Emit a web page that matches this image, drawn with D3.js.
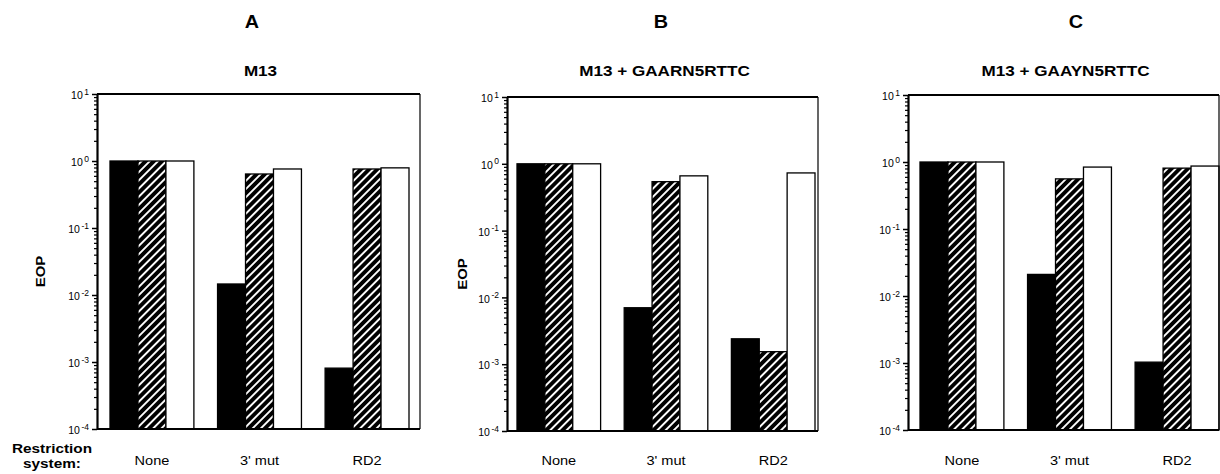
<!DOCTYPE html>
<html><head><meta charset="utf-8">
<script src="https://cdn.jsdelivr.net/npm/d3@7"></script>
<style>
html,body{margin:0;padding:0;background:#fff;}
text{font-family:"Liberation Sans",Arial,Helvetica,sans-serif;fill:#000;}
</style></head>
<body>
<svg id="chart" width="1220" height="474"></svg>
<script>
// ---------- data ----------
const panelLetters = ["A", "B", "C"];
const panelTitles = ["M13", "M13 + GAARN5RTTC", "M13 + GAAYN5RTTC"];
const categories = ["None", "3' mut", "RD2"];
const seriesNames = ["solid", "hatched", "open"];
// values per panel: [None, 3' mut, RD2]
const panelA_solid   = [1.0, 0.0146, 0.00081];
const panelA_hatched = [1.0, 0.64, 0.76];
const panelA_open    = [1.0, 0.76, 0.79];
const panelB_solid   = [1.0, 0.0070, 0.0024];
const panelB_hatched = [1.0, 0.54, 0.00154];
const panelB_open    = [1.0, 0.66, 0.73];
const panelC_solid   = [1.0, 0.021, 0.00103];
const panelC_hatched = [1.0, 0.56, 0.81];
const panelC_open    = [1.0, 0.84, 0.87];
const yTickValues = [1e1, 1e0, 1e-1, 1e-2, 1e-3, 1e-4];
const yTickExponents = ["1", "0", "-1", "-2", "-3", "-4"];
const yAxisTitle = "EOP";
const rowLabel = ["Restriction", "system:"];

// ---------- layout ----------
const layouts = [
  {axisX: 97,  right: 420,  top: 94, bottom: 429, g0: 110, g1: 409, showEOP: true,  eopX: 40,  letterX: 252},
  {axisX: 507, right: 818,  top: 97, bottom: 431, g0: 517, g1: 815, showEOP: true,  eopX: 462, letterX: 661},
  {axisX: 908, right: 1219, top: 95, bottom: 430, g0: 920, g1: 1219, showEOP: false, eopX: 0,  letterX: 1076}
];
const panelData = [
  [panelA_solid, panelA_hatched, panelA_open],
  [panelB_solid, panelB_hatched, panelB_open],
  [panelC_solid, panelC_hatched, panelC_open]
];
const STRETCH = 1.18;

const svg = d3.select("#chart");
const defs = svg.append("defs");
const pat = defs.append("pattern").attr("id", "hatch")
  .attr("patternUnits", "userSpaceOnUse").attr("width", 5.8).attr("height", 5.8)
  .attr("patternTransform", "rotate(45)");
pat.append("rect").attr("width", 5.8).attr("height", 5.8).attr("fill", "#000");
pat.append("line").attr("x1", 2.9).attr("y1", 0).attr("x2", 2.9).attr("y2", 5.8)
  .attr("stroke", "#fff").attr("stroke-width", 1.9);

const fills = {solid: "#000", hatched: "url(#hatch)", open: "#fff"};

function stretchedText(parent, x, y, str, size, weight, anchor, sx) {
  return parent.append("text")
    .attr("transform", `translate(${x},${y}) scale(${sx || STRETCH},1)`)
    .attr("text-anchor", anchor || "middle")
    .attr("font-size", size).attr("font-weight", weight || "normal").text(str);
}

// minor tick values
const minorTicks = [];
for (let e = -4; e < 1; e++) for (let m = 2; m <= 9; m++) minorTicks.push(m * Math.pow(10, e));

layouts.forEach((L, pi) => {
  const g = svg.append("g");
  const y = d3.scaleLog().domain([1e-4, 1e1]).range([L.bottom, L.top]);
  const x0 = d3.scaleBand().domain(categories).range([L.g0, L.g1])
    .paddingInner(0.22).paddingOuter(0);
  const x1 = d3.scaleBand().domain(seriesNames).range([0, x0.bandwidth()]).padding(0);

  // letter & title
  stretchedText(g, L.letterX, 28, panelLetters[pi], 18, "bold", "middle", 1.1);
  stretchedText(g, (L.axisX + L.right) / 2 + 2, 76, panelTitles[pi], 14.5, "bold");

  // bars
  const groups = g.selectAll("g.grp").data(categories).join("g").attr("class", "grp")
    .attr("transform", d => `translate(${x0(d)},0)`);
  groups.each(function(cat, ci) {
    const rows = seriesNames.map((s, si) => ({s, v: panelData[pi][si][ci]}));
    d3.select(this).selectAll("rect").data(rows).join("rect")
      .attr("x", d => x1(d.s))
      .attr("y", d => y(d.v))
      .attr("width", x1.bandwidth())
      .attr("height", d => y(1e-4) - y(d.v))
      .attr("fill", d => fills[d.s])
      .attr("stroke", "#000").attr("stroke-width", 1.3);
  });

  // frame
  g.append("line").attr("x1", L.axisX).attr("x2", L.right).attr("y1", L.top).attr("y2", L.top)
    .attr("stroke", "#000").attr("stroke-width", 2);
  g.append("line").attr("x1", L.right).attr("x2", L.right).attr("y1", L.top).attr("y2", L.bottom)
    .attr("stroke", "#000").attr("stroke-width", 1.2);
  g.append("line").attr("x1", L.axisX).attr("x2", L.right).attr("y1", L.bottom).attr("y2", L.bottom)
    .attr("stroke", "#000").attr("stroke-width", 2);

  // minor ticks
  const minorAx = g.append("g").attr("transform", `translate(${L.axisX},0)`)
    .call(d3.axisLeft(y).tickValues(minorTicks).tickSize(3).tickFormat(""));
  minorAx.select(".domain").remove();
  minorAx.selectAll(".tick line").attr("stroke-width", 1.2);

  // major axis
  const ax = g.append("g").attr("transform", `translate(${L.axisX},0)`)
    .call(d3.axisLeft(y).tickValues(yTickValues).tickSize(5).tickSizeOuter(0).tickPadding(4).tickFormat(""));
  ax.select(".domain").attr("stroke-width", 2.2);
  ax.selectAll(".tick line").attr("stroke-width", 1.5);
  ax.selectAll(".tick").each(function(d, i) {
    const t = d3.select(this).select("text");
    t.attr("font-size", 10.5).attr("font-family", "'Liberation Sans',Arial,sans-serif")
      .attr("dy", "0.45em").attr("x", -8);
    t.append("tspan").text("10");
    t.append("tspan").attr("dy", "-0.55em").attr("dx", "1.5").attr("font-size", 8.5).text(yTickExponents[i]);
  });

  // EOP
  if (L.showEOP) {
    g.append("text").attr("transform", `translate(${L.eopX},${(L.top + L.bottom) / 2 + 10}) rotate(-90) scale(1.15,1)`)
      .attr("text-anchor", "middle").attr("dy", "0.35em")
      .attr("font-size", 13).attr("font-weight", "bold").text(yAxisTitle);
  }

  // category labels
  categories.forEach(c => {
    stretchedText(g, x0(c) + x0.bandwidth() / 2, 465, c, 13, "normal", "middle", 1.12);
  });
});

// row label
stretchedText(svg, 52, 453, rowLabel[0], 13, "bold");
stretchedText(svg, 52, 468, rowLabel[1], 13, "bold");
</script>
</body></html>
